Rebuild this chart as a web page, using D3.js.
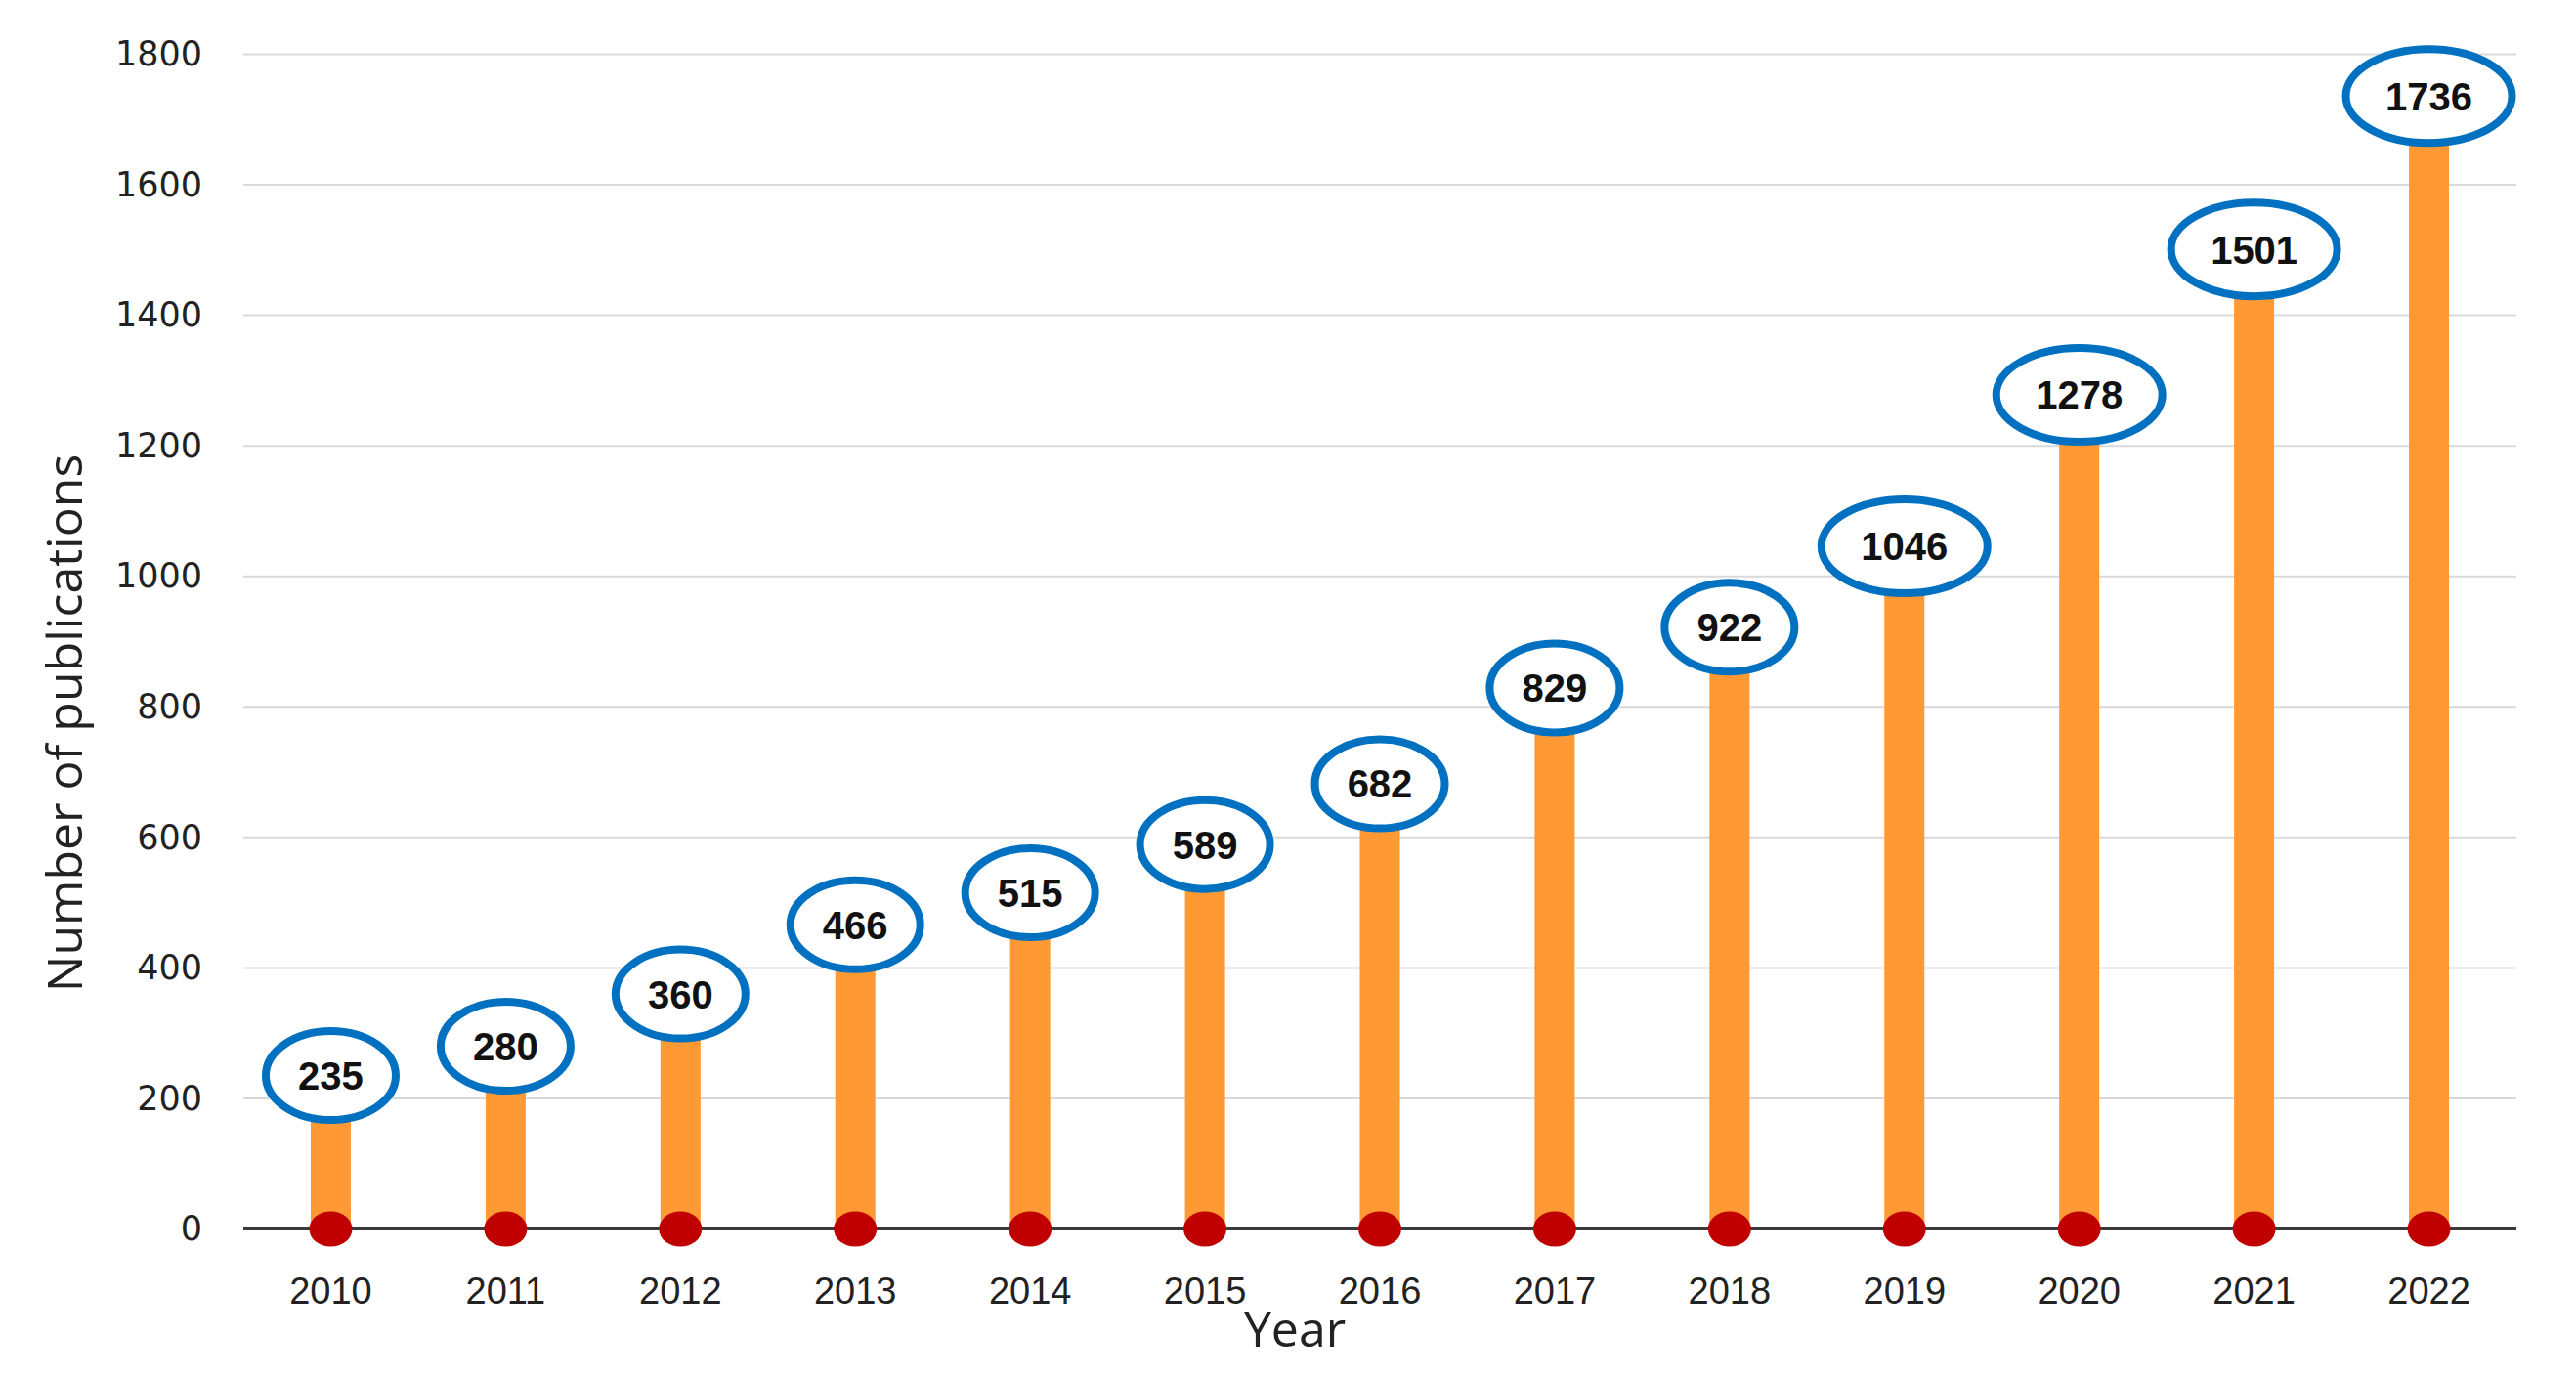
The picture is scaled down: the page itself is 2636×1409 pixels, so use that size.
<!DOCTYPE html>
<html>
<head>
<meta charset="utf-8">
<script src="https://cdn.jsdelivr.net/npm/d3@7"></script>
<style>
  html, body { margin: 0; padding: 0; background: #ffffff; }
  svg { display: block; }
</style>
</head>
<body>
<svg id="chart" width="2636" height="1409"></svg>
<script>
const years = ["2010","2011","2012","2013","2014","2015","2016","2017","2018","2019","2020","2021","2022"];
const publications = [235, 280, 360, 466, 515, 589, 682, 829, 922, 1046, 1278, 1501, 1736];
const yTicks = [0, 200, 400, 600, 800, 1000, 1200, 1400, 1600, 1800];
const yTitle = "Number of publications";
const xTitle = "Year";

const svg = d3.select("#chart");
const plotLeft = 249, plotRight = 2575, plotTop = 55.5, plotBottom = 1257.5;

const x = d3.scaleBand().domain(years).range([plotLeft, plotRight]).padding(0);
const y = d3.scaleLinear().domain([0, 1800]).range([plotBottom, plotTop]);

// gridlines
svg.append("g").selectAll("line").data(yTicks.filter(d => d > 0)).join("line")
  .attr("x1", plotLeft).attr("x2", plotRight)
  .attr("y1", d => y(d)).attr("y2", d => y(d))
  .attr("stroke", "#d9d9d9").attr("stroke-width", 2);

// y axis tick labels
const yAxis = d3.axisLeft(y).tickValues(yTicks).tickFormat(d3.format("d")).tickSize(0).tickPadding(42);
const gy = svg.append("g").attr("transform", `translate(${plotLeft},0)`).call(yAxis);
gy.select(".domain").remove();
gy.selectAll("text")
  .attr("font-family", "'DejaVu Sans', sans-serif")
  .attr("font-size", 35).attr("fill", "#222");

// bars (stems)
const barW = 41;
svg.append("g").selectAll("rect").data(publications).join("rect")
  .attr("x", (d, i) => x(years[i]) + x.bandwidth() / 2 - barW / 2)
  .attr("width", barW)
  .attr("y", d => y(d))
  .attr("height", d => y(0) - y(d))
  .attr("fill", "#FF9933");

// zero axis line
svg.append("line")
  .attr("x1", plotLeft).attr("x2", plotRight)
  .attr("y1", y(0)).attr("y2", y(0))
  .attr("stroke", "#3a3a3a").attr("stroke-width", 3);

// red base dots
svg.append("g").selectAll("ellipse").data(publications).join("ellipse")
  .attr("cx", (d, i) => x(years[i]) + x.bandwidth() / 2)
  .attr("cy", y(0))
  .attr("rx", 22).attr("ry", 18)
  .attr("fill", "#C00000");

// x axis labels
const xAxis = d3.axisBottom(x).tickSize(0).tickPadding(0);
const gx = svg.append("g").attr("transform", `translate(0,${plotBottom})`).call(xAxis);
gx.select(".domain").remove();
gx.selectAll("text")
  .attr("dy", null).attr("y", 76)
  .attr("font-family", "'Liberation Sans', sans-serif")
  .attr("font-size", 38).attr("fill", "#222");

// value ellipses
const lab = svg.append("g").selectAll("g").data(publications).join("g")
  .attr("transform", (d, i) => `translate(${x(years[i]) + x.bandwidth() / 2},${y(d)})`);
lab.append("ellipse")
  .attr("rx", d => 66.5 + (String(d).length - 3) * 18.5)
  .attr("ry", d => 45.5 + (String(d).length - 3) * 2.5)
  .attr("fill", "#ffffff")
  .attr("stroke", "#0070C0").attr("stroke-width", 8);
lab.append("text")
  .text(d => d)
  .attr("text-anchor", "middle")
  .attr("dy", "0.36em")
  .attr("font-family", "'Liberation Sans', sans-serif")
  .attr("font-weight", "bold")
  .attr("font-size", 40)
  .attr("fill", "#111");

// axis titles
svg.append("text")
  .attr("transform", `translate(84,740) rotate(-90)`)
  .attr("text-anchor", "middle")
  .attr("font-family", "'Open Sans', sans-serif")
  .attr("font-size", 50).attr("fill", "#222")
  .text(yTitle);

svg.append("text")
  .attr("x", 1325).attr("y", 1378)
  .attr("text-anchor", "middle")
  .attr("font-family", "'Open Sans', sans-serif")
  .attr("font-size", 50).attr("fill", "#222")
  .text(xTitle);
</script>
</body>
</html>
